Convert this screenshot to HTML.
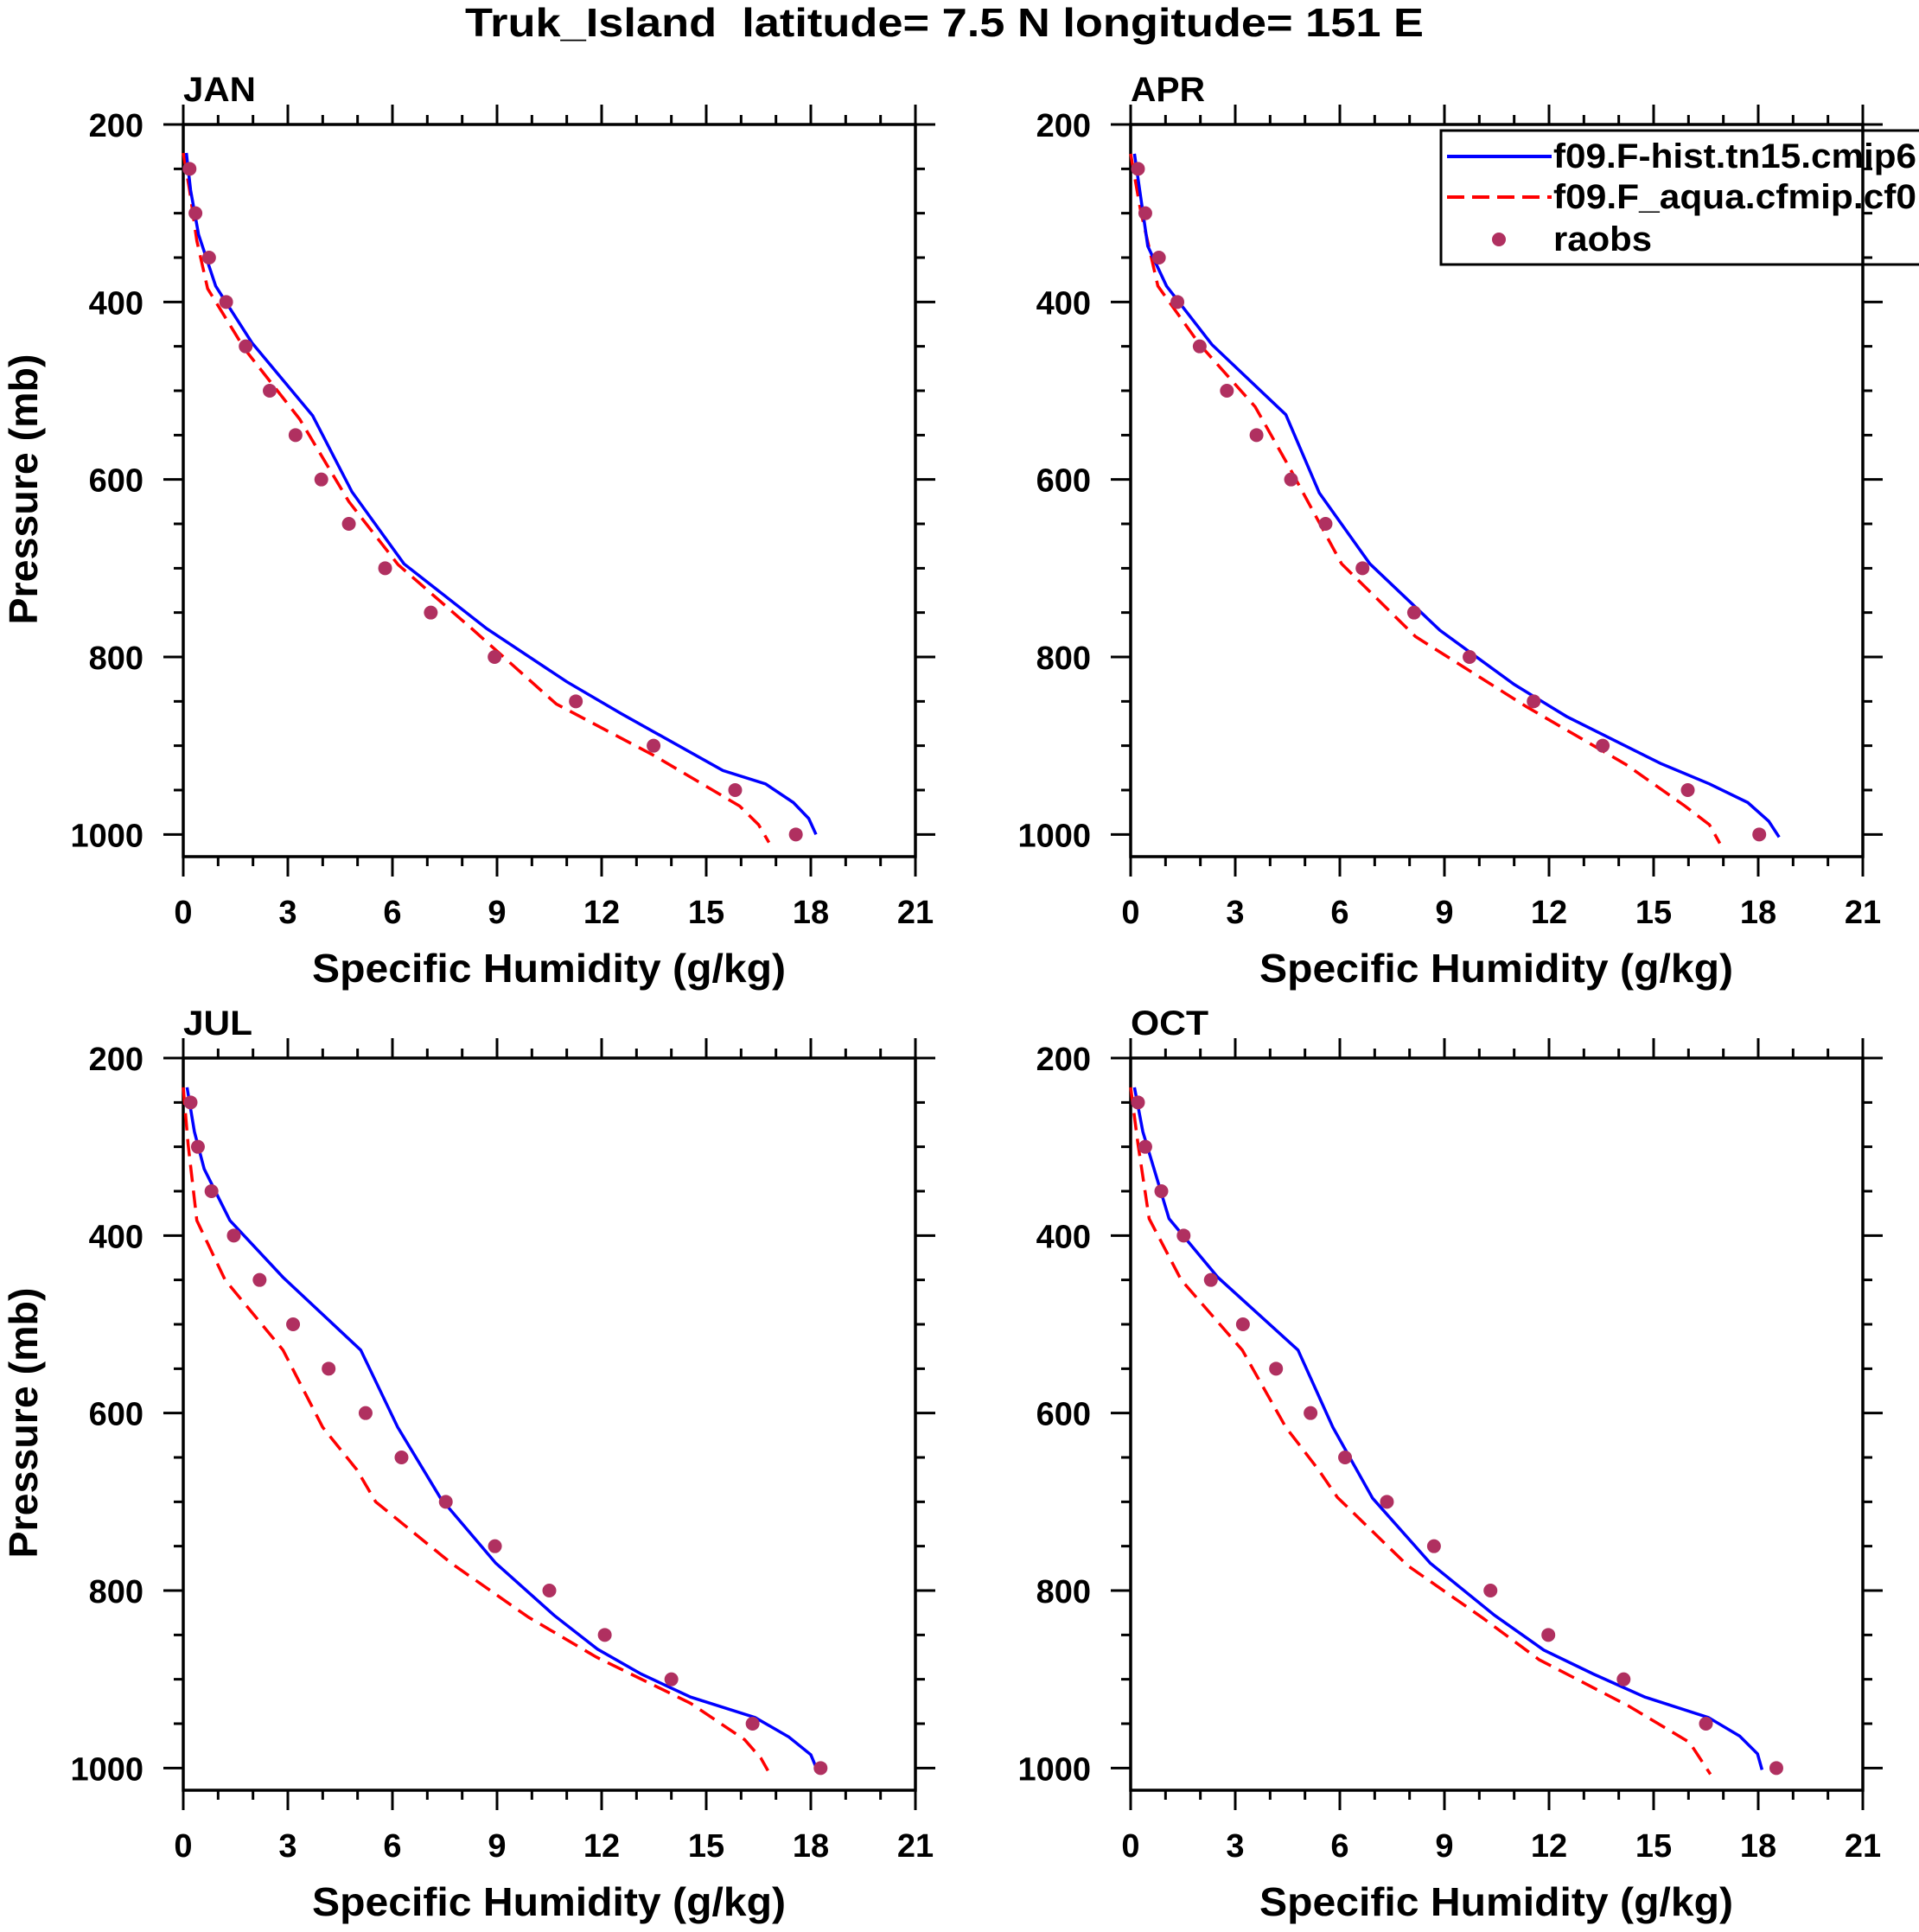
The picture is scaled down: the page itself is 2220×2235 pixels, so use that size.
<!DOCTYPE html>
<html><head><meta charset="utf-8"><style>
html,body{margin:0;padding:0;background:#fff;}
svg text{font-family:"Liberation Sans",Arial,sans-serif;font-weight:bold;fill:#000;}
</style></head><body>
<svg id="s" xmlns="http://www.w3.org/2000/svg" width="2220" height="2230" viewBox="0 0 2220 2230">
<rect width="2220" height="2230" fill="#fff"/>
<text x="538" y="42" font-size="46" textLength="1109" lengthAdjust="spacingAndGlyphs" xml:space="preserve">Truk_Island  latitude= 7.5 N longitude= 151 E</text>
<text x="212" y="117" font-size="40" textLength="84" lengthAdjust="spacingAndGlyphs">JAN</text>
<text x="1308" y="117" font-size="40" textLength="86" lengthAdjust="spacingAndGlyphs">APR</text>
<text x="212" y="1197" font-size="40" textLength="80" lengthAdjust="spacingAndGlyphs">JUL</text>
<text x="1308" y="1197" font-size="40" textLength="90" lengthAdjust="spacingAndGlyphs">OCT</text>
<text x="361" y="1136" font-size="46" textLength="548" lengthAdjust="spacingAndGlyphs">Specific Humidity (g/kg)</text>
<text x="1457" y="1136" font-size="46" textLength="548" lengthAdjust="spacingAndGlyphs">Specific Humidity (g/kg)</text>
<text x="361" y="2216" font-size="46" textLength="548" lengthAdjust="spacingAndGlyphs">Specific Humidity (g/kg)</text>
<text x="1457" y="2216" font-size="46" textLength="548" lengthAdjust="spacingAndGlyphs">Specific Humidity (g/kg)</text>
<text transform="translate(43,566) rotate(-90)" font-size="46" text-anchor="middle" textLength="313" lengthAdjust="spacingAndGlyphs">Pressure (mb)</text>
<text transform="translate(43,1646) rotate(-90)" font-size="46" text-anchor="middle" textLength="313" lengthAdjust="spacingAndGlyphs">Pressure (mb)</text>
<g id="leg">
<rect x="1667" y="151" width="600" height="155" fill="#fff" stroke="#000" stroke-width="3"/>
<line x1="1674" y1="181" x2="1795" y2="181" stroke="#0000ff" stroke-width="4"/>
<line x1="1674" y1="228" x2="1795" y2="228" stroke="#ff0000" stroke-width="4" stroke-dasharray="20,9"/>
<circle cx="1734" cy="277" r="8" fill="#b03060"/>
<text x="1797" y="194" font-size="40" textLength="420" lengthAdjust="spacingAndGlyphs">f09.F-hist.tn15.cmip6</text>
<text x="1797" y="241" font-size="40" textLength="420" lengthAdjust="spacingAndGlyphs">f09.F_aqua.cfmip.cf0</text>
<text x="1797" y="290" font-size="40" textLength="114" lengthAdjust="spacingAndGlyphs">raobs</text>
</g>
<g id="g"></g>
</svg>
<script>
var NS="http://www.w3.org/2000/svg",G=document.getElementById('g');
function el(t,a,txt){var e=document.createElementNS(NS,t);for(var k in a)e.setAttribute(k,a[k]);if(txt!==undefined)e.textContent=txt;G.appendChild(e);return e;}
var W=847,P=[[212,144],[1308,144],[212,1224],[1308,1224]];
var D=[
{b:[[0.09,232],[0.21,274],[0.44,324],[0.93,382],[1.97,446],[3.71,528],[4.84,614],[6.33,695],[8.7,768],[11.0,828],[12.57,864],[15.48,928],[16.7,943],[17.5,964],[17.94,982],[18.15,1000]],
 r:[[0,232],[0.18,274],[0.39,331],[0.7,385],[1.76,453],[3.34,532],[4.75,625],[6.16,696],[8.27,768],[10.7,853],[13.5,911],[15.96,968],[16.5,989],[16.8,1009]],
 d:[0.18,0.35,0.74,1.23,1.79,2.48,3.22,3.96,4.75,5.79,7.1,8.93,11.26,13.49,15.83,17.57]},
{b:[[0.11,233],[0.49,337],[1.03,382],[2.33,448],[4.45,527],[5.41,615],[6.86,695],[8.87,770],[11.0,831],[12.5,867],[15.2,920],[16.6,943],[17.7,964],[18.3,985],[18.6,1003]],
 r:[[0,233],[0.28,296],[0.78,382],[1.98,448],[3.57,518],[4.56,587],[6.05,695],[8.17,777],[11.35,856],[14.2,921],[15.9,968],[16.6,989],[16.9,1010]],
 d:[0.21,0.42,0.81,1.34,1.98,2.76,3.61,4.6,5.59,6.65,8.13,9.72,11.56,13.54,15.98,18.03]},
{b:[[0.11,233],[0.32,283],[0.6,325],[1.34,383],[2.86,447],[5.09,529],[6.15,616],[7.38,696],[8.96,769],[10.64,828],[11.88,866],[13.13,894],[14.55,920],[16.4,943],[17.37,965],[18.0,985],[18.18,1002]],
 r:[[0,233],[0.14,297],[0.39,383],[1.2,450],[2.86,529],[4.0,616],[4.98,664],[5.52,700],[7.68,769],[9.9,830],[11.85,875],[14.55,927],[16.1,968],[16.57,989],[16.77,1003]],
 d:[0.21,0.42,0.81,1.45,2.19,3.15,4.17,5.23,6.26,7.53,8.94,10.5,12.09,14.0,16.33,18.28]},
{b:[[0.11,233],[0.35,283],[1.1,381],[2.5,447],[4.8,529],[5.8,616],[6.94,696],[8.59,769],[10.44,828],[11.85,867],[13.27,894],[14.75,920],[16.57,943],[17.47,964],[17.98,984],[18.11,1002]],
 r:[[0,233],[0.21,297],[0.53,381],[1.45,450],[3.2,529],[4.45,616],[5.39,664],[5.93,695],[7.95,772],[10.1,831],[11.72,878],[14.28,930],[16.03,971],[16.63,1007]],
 d:[0.21,0.42,0.88,1.52,2.3,3.22,4.17,5.16,6.15,7.35,8.7,10.32,11.98,14.14,16.5,18.52]}];
P.forEach(function(o,i){
 var x0=o[0],y0=o[1];
 function X(q){return x0+q*W/21;} function Y(p){return y0+(p-200)*W/825;}
 var t="";
 for(var q=0;q<=21;q++){var L=q%3==0?23:11;var x=X(q);t+="M"+x+","+y0+"v"+(-L)+"M"+x+","+(y0+W)+"v"+L;}
 for(var p=200;p<=1000;p+=50){var L=p%200==0?23:11;var y=Y(p);t+="M"+x0+","+y+"h"+(-L)+"M"+(x0+W)+","+y+"h"+L;}
 el('path',{d:t,stroke:'#000','stroke-width':3,fill:'none'});
 el('rect',{x:x0,y:y0,width:W,height:W,fill:'none',stroke:'#000','stroke-width':3.5});
 for(var q=0;q<=21;q+=3)el('text',{x:X(q),y:y0+924,'font-size':38,'text-anchor':'middle'},String(q));
 for(var p=200;p<=1000;p+=200)el('text',{x:x0-46,y:Y(p)+14,'font-size':38,'text-anchor':'end'},String(p));
 var d=D[i];
 function path(a){return a.map(function(v,j){return (j?"L":"M")+X(v[0]).toFixed(1)+","+Y(v[1]).toFixed(1);}).join("");}
 el('path',{d:path(d.r),stroke:'#ff0000','stroke-width':3.5,fill:'none','stroke-dasharray':'20,10'});
 el('path',{d:path(d.b),stroke:'#0000ff','stroke-width':3.5,fill:'none'});
 d.d.forEach(function(q,j){el('circle',{cx:X(q),cy:Y(250+50*j),r:8,fill:'#b03060'});});
});
</script>
</body></html>
